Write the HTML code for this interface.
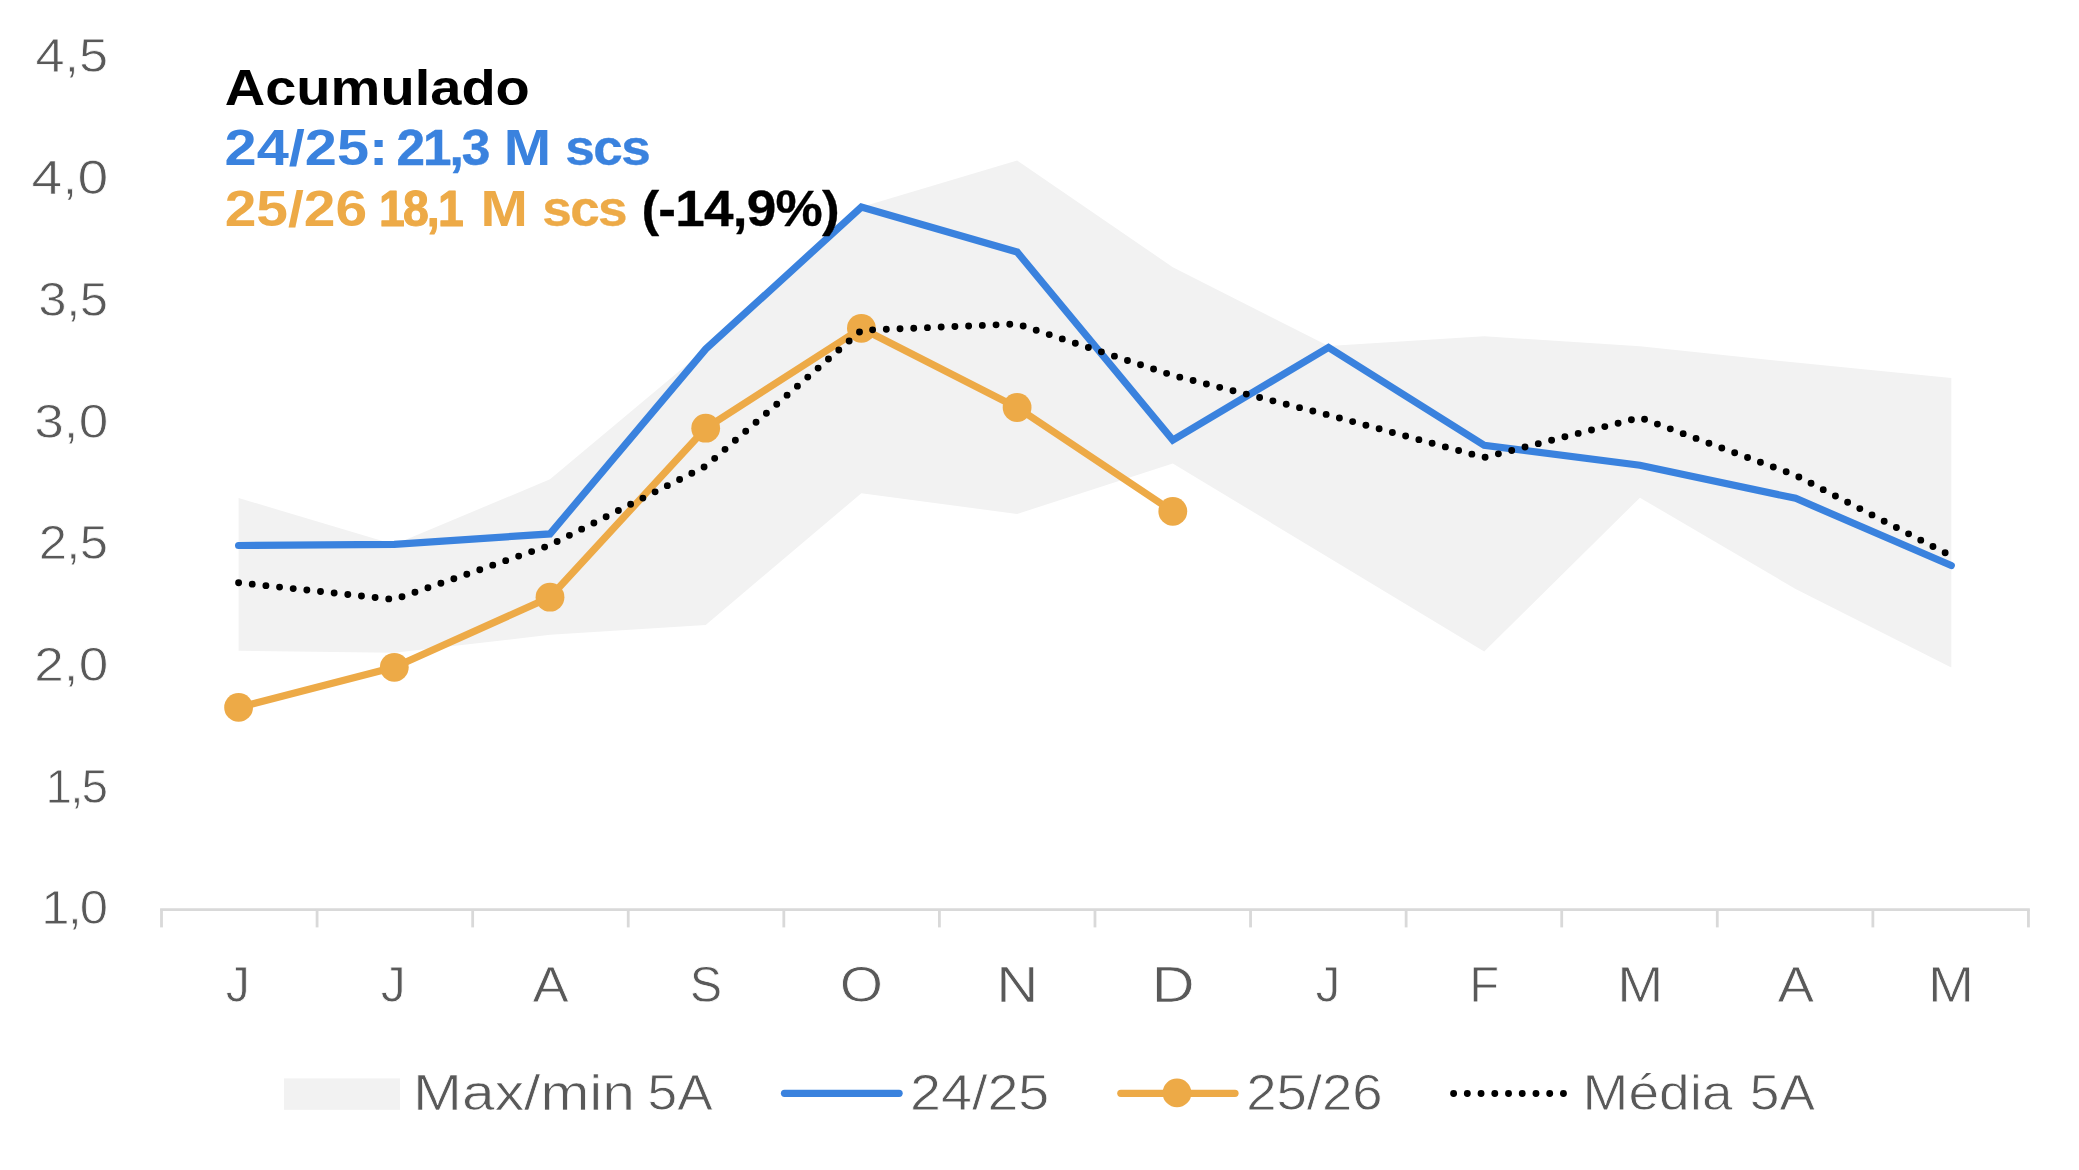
<!DOCTYPE html>
<html lang="pt"><head><meta charset="utf-8"><title>Acumulado</title>
<style>html,body{margin:0;padding:0;background:#fff}svg{display:block}text{font-family:"Liberation Sans", sans-serif;}</style></head><body>
<svg width="2079" height="1170" viewBox="0 0 2079 1170">
<rect width="2079" height="1170" fill="#fff"/>
<polygon fill="#F2F2F2" points="238.6,498.0 394.3,544.5 550.0,479.3 705.7,349.1 861.4,207.0 1017.1,160.5 1172.8,267.2 1328.5,346.0 1484.2,336.2 1639.9,346.3 1795.6,362.6 1951.3,378.1 1951.3,667.4 1795.6,589.0 1639.9,497.7 1484.2,651.6 1328.5,557.5 1172.8,463.4 1017.1,514.0 861.4,493.2 705.7,624.9 550.0,634.8 394.3,652.8 238.6,650.8"/>
<g stroke="#D9D9D9" stroke-width="2.8" fill="none" stroke-linecap="butt">
<line x1="160.10" y1="909.6" x2="2029.85" y2="909.6"/>
<line x1="161.50" y1="909.6" x2="161.50" y2="927.4"/>
<line x1="317.08" y1="909.6" x2="317.08" y2="927.4"/>
<line x1="472.66" y1="909.6" x2="472.66" y2="927.4"/>
<line x1="628.24" y1="909.6" x2="628.24" y2="927.4"/>
<line x1="783.82" y1="909.6" x2="783.82" y2="927.4"/>
<line x1="939.40" y1="909.6" x2="939.40" y2="927.4"/>
<line x1="1094.97" y1="909.6" x2="1094.97" y2="927.4"/>
<line x1="1250.55" y1="909.6" x2="1250.55" y2="927.4"/>
<line x1="1406.13" y1="909.6" x2="1406.13" y2="927.4"/>
<line x1="1561.71" y1="909.6" x2="1561.71" y2="927.4"/>
<line x1="1717.29" y1="909.6" x2="1717.29" y2="927.4"/>
<line x1="1872.87" y1="909.6" x2="1872.87" y2="927.4"/>
<line x1="2028.45" y1="909.6" x2="2028.45" y2="927.4"/>
</g>
<polyline fill="none" stroke="#3A82DE" stroke-width="7.2" stroke-linecap="round" stroke-linejoin="miter" points="238.6,545.5 394.3,544.4 550.0,533.9 705.7,349.1 861.4,207.1 1017.1,252.0 1172.8,440.1 1328.5,347.4 1484.2,445.2 1639.9,465.3 1795.6,498.3 1951.3,565.5"/>
<polyline fill="none" stroke="#EDAA47" stroke-width="7.2" stroke-linecap="round" stroke-linejoin="round" points="238.6,707.4 394.3,667.3 550.0,597.2 705.7,428.2 861.4,328.3 1017.1,407.5 1172.8,511.4"/>
<circle cx="238.6" cy="707.4" r="14.4" fill="#EDAA47"/>
<circle cx="394.3" cy="667.3" r="14.4" fill="#EDAA47"/>
<circle cx="550.0" cy="597.2" r="14.4" fill="#EDAA47"/>
<circle cx="705.7" cy="428.2" r="14.4" fill="#EDAA47"/>
<circle cx="861.4" cy="328.3" r="14.4" fill="#EDAA47"/>
<circle cx="1017.1" cy="407.5" r="14.4" fill="#EDAA47"/>
<circle cx="1172.8" cy="511.4" r="14.4" fill="#EDAA47"/>
<polyline fill="none" stroke="#000" stroke-width="6.9" stroke-linecap="round" stroke-linejoin="round" stroke-dasharray="0 13.73" points="238.6,582.7 394.3,599.5 550.0,545.2 705.7,466.2 861.4,330.3 1017.1,324.0 1172.8,375.4 1328.5,415.0 1484.2,457.5 1639.9,417.6 1795.6,475.3 1951.3,556.0"/>
<rect x="284" y="1078.4" width="116" height="31.4" fill="#F2F2F2"/>
<line x1="784.5" y1="1093.3" x2="899.1" y2="1093.3" stroke="#3A82DE" stroke-width="7.2" stroke-linecap="round"/>
<line x1="1120.8" y1="1093.3" x2="1235" y2="1093.3" stroke="#EDAA47" stroke-width="7.2" stroke-linecap="round"/>
<circle cx="1177.0" cy="1092.9" r="14.4" fill="#EDAA47"/>
<line x1="1453.6" y1="1093.5" x2="1566" y2="1093.5" stroke="#000" stroke-width="6.9" stroke-linecap="round" stroke-dasharray="0 13.73"/>
<text transform="translate(35.42,72.3) scale(1.0813,1)" font-size="48.41" font-weight="normal" fill="#595959" stroke="#fff" stroke-width="0.8" vector-effect="non-scaling-stroke">4,5</text>
<text transform="translate(31.46,194.0) scale(1.1422,1)" font-size="48.41" font-weight="normal" fill="#595959" stroke="#fff" stroke-width="0.8" vector-effect="non-scaling-stroke">4,0</text>
<text transform="translate(38.30,315.8) scale(1.0500,1)" font-size="48.41" font-weight="normal" fill="#595959" letter-spacing="-0.40" stroke="#fff" stroke-width="0.8" vector-effect="non-scaling-stroke">3,5</text>
<text transform="translate(34.30,437.5) scale(1.0984,1)" font-size="48.41" font-weight="normal" fill="#595959" stroke="#fff" stroke-width="0.8" vector-effect="non-scaling-stroke">3,0</text>
<text transform="translate(38.70,559.2) scale(1.0500,1)" font-size="48.41" font-weight="normal" fill="#595959" letter-spacing="-0.60" stroke="#fff" stroke-width="0.8" vector-effect="non-scaling-stroke">2,5</text>
<text transform="translate(34.30,680.9) scale(1.0984,1)" font-size="48.41" font-weight="normal" fill="#595959" stroke="#fff" stroke-width="0.8" vector-effect="non-scaling-stroke">2,0</text>
<text transform="translate(45.56,802.7) scale(0.9860,1)" font-size="48.41" font-weight="normal" fill="#595959" letter-spacing="-2.00" stroke="#fff" stroke-width="0.8" vector-effect="non-scaling-stroke">1,5</text>
<text transform="translate(41.30,924.4) scale(1.0500,1)" font-size="48.41" font-weight="normal" fill="#595959" letter-spacing="-1.83" stroke="#fff" stroke-width="0.8" vector-effect="non-scaling-stroke">1,0</text>
<text transform="translate(225.85,1001.8) scale(0.9524,1)" font-size="50.58" font-weight="normal" fill="#595959" stroke="#fff" stroke-width="0.8" vector-effect="non-scaling-stroke">J</text>
<text transform="translate(380.81,1001.8) scale(0.9905,1)" font-size="50.58" font-weight="normal" fill="#595959" stroke="#fff" stroke-width="0.8" vector-effect="non-scaling-stroke">J</text>
<text transform="translate(532.50,1001.8) scale(1.0758,1)" font-size="50.58" font-weight="normal" fill="#595959" stroke="#fff" stroke-width="0.8" vector-effect="non-scaling-stroke">A</text>
<text transform="translate(689.72,1001.8) scale(0.9607,1)" font-size="50.58" font-weight="normal" fill="#595959" stroke="#fff" stroke-width="0.8" vector-effect="non-scaling-stroke">S</text>
<text transform="translate(839.80,1001.8) scale(1.1000,1)" font-size="50.58" font-weight="normal" fill="#595959" stroke="#fff" stroke-width="0.8" vector-effect="non-scaling-stroke">O</text>
<text transform="translate(996.27,1001.8) scale(1.1571,1)" font-size="50.58" font-weight="normal" fill="#595959" stroke="#fff" stroke-width="0.8" vector-effect="non-scaling-stroke">N</text>
<text transform="translate(1151.57,1001.8) scale(1.1833,1)" font-size="50.58" font-weight="normal" fill="#595959" stroke="#fff" stroke-width="0.8" vector-effect="non-scaling-stroke">D</text>
<text transform="translate(1315.51,1001.8) scale(0.9857,1)" font-size="50.58" font-weight="normal" fill="#595959" stroke="#fff" stroke-width="0.8" vector-effect="non-scaling-stroke">J</text>
<text transform="translate(1469.33,1001.8) scale(0.9680,1)" font-size="50.58" font-weight="normal" fill="#595959" stroke="#fff" stroke-width="0.8" vector-effect="non-scaling-stroke">F</text>
<text transform="translate(1617.22,1001.8) scale(1.0941,1)" font-size="50.58" font-weight="normal" fill="#595959" stroke="#fff" stroke-width="0.8" vector-effect="non-scaling-stroke">M</text>
<text transform="translate(1777.50,1001.8) scale(1.0879,1)" font-size="50.58" font-weight="normal" fill="#595959" stroke="#fff" stroke-width="0.8" vector-effect="non-scaling-stroke">A</text>
<text transform="translate(1927.92,1001.8) scale(1.0941,1)" font-size="50.58" font-weight="normal" fill="#595959" stroke="#fff" stroke-width="0.8" vector-effect="non-scaling-stroke">M</text>
<text transform="translate(224.68,104.6) scale(1.1181,1)" font-size="50.14" font-weight="bold" fill="#000000">Acumulado</text>
<text transform="translate(224.62,164.7) scale(1.1412,1)" font-size="50.58" font-weight="bold" fill="#3A82DE">24/25:</text>
<text transform="translate(396.47,164.7) scale(1.0136,1)" font-size="50.58" font-weight="bold" fill="#3A82DE" letter-spacing="-2.00" stroke="#3A82DE" stroke-width="0.52" stroke-linejoin="round">21,3</text>
<text transform="translate(503.82,164.7) scale(1.1250,1)" font-size="50.58" font-weight="bold" fill="#3A82DE">M</text>
<text transform="translate(565.30,164.7) scale(1.0500,1)" font-size="50.58" font-weight="bold" fill="#3A82DE" letter-spacing="-1.52" stroke="#3A82DE" stroke-width="0.30" stroke-linejoin="round">scs</text>
<text transform="translate(224.65,225.8) scale(1.1260,1)" font-size="50.58" font-weight="bold" fill="#EDAA47">25/26</text>
<text transform="translate(378.95,225.8) scale(0.9170,1)" font-size="50.58" font-weight="bold" fill="#EDAA47" letter-spacing="-2.00" stroke="#EDAA47" stroke-width="1.10" stroke-linejoin="round">18,1</text>
<text transform="translate(480.62,225.8) scale(1.1250,1)" font-size="50.58" font-weight="bold" fill="#EDAA47">M</text>
<text transform="translate(542.30,225.8) scale(1.0500,1)" font-size="50.58" font-weight="bold" fill="#EDAA47" letter-spacing="-1.62" stroke="#EDAA47" stroke-width="0.30" stroke-linejoin="round">scs</text>
<text transform="translate(641.45,225.8) scale(1.0500,1)" font-size="50.58" font-weight="bold" fill="#000000" letter-spacing="-0.73" stroke="#000000" stroke-width="0.30" stroke-linejoin="round">(-14,9%)</text>
<text transform="translate(413.07,1110.0) scale(1.1587,1)" font-size="50.72" font-weight="normal" fill="#595959" stroke="#fff" stroke-width="0.8" vector-effect="non-scaling-stroke">Max/min</text>
<text transform="translate(647.60,1110.0) scale(1.0500,1)" font-size="50.72" font-weight="normal" fill="#595959" stroke="#fff" stroke-width="0.8" vector-effect="non-scaling-stroke">5A</text>
<text transform="translate(910.11,1110.0) scale(1.0967,1)" font-size="50.72" font-weight="normal" fill="#595959" stroke="#fff" stroke-width="0.8" vector-effect="non-scaling-stroke">24/25</text>
<text transform="translate(1246.18,1110.0) scale(1.0746,1)" font-size="50.72" font-weight="normal" fill="#595959" stroke="#fff" stroke-width="0.8" vector-effect="non-scaling-stroke">25/26</text>
<text transform="translate(1582.56,1110.0) scale(1.0858,1)" font-size="50.72" font-weight="normal" fill="#595959" stroke="#fff" stroke-width="0.8" vector-effect="non-scaling-stroke">Média</text>
<text transform="translate(1749.80,1110.0) scale(1.0500,1)" font-size="50.72" font-weight="normal" fill="#595959" stroke="#fff" stroke-width="0.8" vector-effect="non-scaling-stroke">5A</text>
</svg></body></html>
